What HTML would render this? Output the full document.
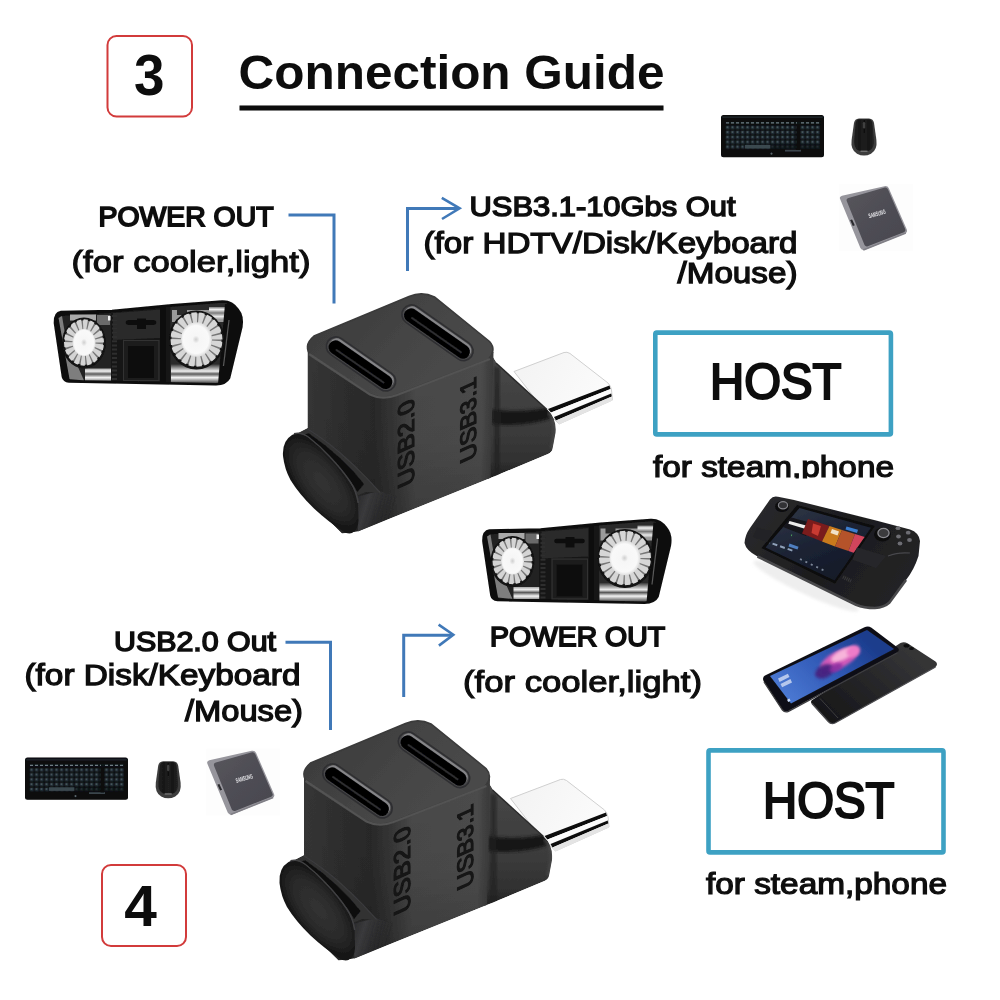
<!DOCTYPE html>
<html><head><meta charset="utf-8"><title>Connection Guide</title>
<style>
html,body{margin:0;padding:0;background:#fff;}
body{width:1000px;height:1000px;overflow:hidden;font-family:"Liberation Sans",sans-serif;}
svg{display:block;}
text{font-family:"Liberation Sans",sans-serif;fill:#0a0a0a;}
.m{stroke:#0a0a0a;stroke-width:1px;font-size:28px;}
.l{font-size:29.5px;}
.b{font-weight:bold;}
</style></head><body>
<svg width="1000" height="1000" viewBox="0 0 1000 1000">
<defs>
<linearGradient id="gTop" gradientUnits="userSpaceOnUse" x1="330" y1="300" x2="440" y2="400">
 <stop offset="0" stop-color="#3c3c3c"/><stop offset="0.5" stop-color="#444444"/><stop offset="1" stop-color="#4a4a4a"/>
</linearGradient>
<linearGradient id="gRight" gradientUnits="userSpaceOnUse" x1="307" y1="0" x2="494" y2="0">
 <stop offset="0" stop-color="#363636"/><stop offset="0.16" stop-color="#2f2f2f"/><stop offset="0.36" stop-color="#292929"/><stop offset="0.46" stop-color="#353535"/><stop offset="0.58" stop-color="#494949"/><stop offset="0.93" stop-color="#4c4c4c"/><stop offset="1" stop-color="#383838"/>
</linearGradient>
<linearGradient id="gShade" gradientUnits="userSpaceOnUse" x1="0" y1="350" x2="0" y2="530">
 <stop offset="0" stop-color="#000" stop-opacity="0"/><stop offset="0.5" stop-color="#000" stop-opacity="0.04"/><stop offset="1" stop-color="#000" stop-opacity="0.2"/>
</linearGradient>
<clipPath id="cNeck"><path d="M490 352 L497 363.5 L547 409.5 Q557 419 555.5 433 L552.5 449 Q552 452 548 454 L488 479 Z"/></clipPath>
<clipPath id="cBody"><path d="M307.5 344 L307.5 428 L292 436 L283.5 452 L301 493 L342 533.5 L358 531.5 L490.5 478 L556 450 L556 330 L400 290 Z"/></clipPath>
<linearGradient id="gNeck" gradientUnits="userSpaceOnUse" x1="500" y1="360" x2="500" y2="480">
 <stop offset="0" stop-color="#484848"/><stop offset="0.42" stop-color="#3e3e3e"/><stop offset="0.62" stop-color="#3a3a3a"/><stop offset="0.85" stop-color="#303030"/><stop offset="1" stop-color="#1e1e1e"/>
</linearGradient>
<radialGradient id="gTab" gradientUnits="userSpaceOnUse" cx="0" cy="0" r="1" gradientTransform="translate(322,482) rotate(52) scale(56,24)">
 <stop offset="0" stop-color="#323232"/><stop offset="0.6" stop-color="#2b2b2b"/><stop offset="0.88" stop-color="#1e1e1e"/><stop offset="1" stop-color="#141414"/>
</radialGradient>
<linearGradient id="gLip" gradientUnits="userSpaceOnUse" x1="356" y1="500" x2="392" y2="512">
 <stop offset="0" stop-color="#2a2a2c"/><stop offset="0.3" stop-color="#3a3a3c"/><stop offset="1" stop-color="#2c2c2e" stop-opacity="0"/>
</linearGradient>
<linearGradient id="gPlugTop" gradientUnits="userSpaceOnUse" x1="530" y1="360" x2="600" y2="400">
 <stop offset="0" stop-color="#f4f4f4"/><stop offset="1" stop-color="#fbfbfb"/>
</linearGradient>
<filter id="soft" x="-5%" y="-5%" width="110%" height="110%"><feGaussianBlur stdDeviation="0.7"/></filter>
<filter id="soft3" x="-2%" y="-2%" width="104%" height="104%"><feGaussianBlur stdDeviation="0.45"/></filter>
<filter id="soft2" x="-10%" y="-10%" width="120%" height="120%"><feGaussianBlur stdDeviation="1.6"/></filter>
<g id="adapter" filter="url(#soft)">
 <!-- plug -->
 <path d="M514 371.5 L564 352.5 Q567 351.5 570 353.5 L608 383 Q611 386 611.5 390 L612.5 400 L559 424 L540 405 Z" fill="url(#gPlugTop)" stroke="#cfcfcf" stroke-width="1"/>
 <path d="M548 409 L609.5 385.5 L610.5 389 L551 412.5 Z" fill="#0c0c0c"/>
 <path d="M551 412.6 L610.6 389 L611.2 393.6 L554 417 Z" fill="#fbfbfb"/>
 <path d="M554 417 L611.2 393.6 L611.8 396.4 L556 420.4 Z" fill="#101010"/>
 <path d="M556 420.4 L611.8 396.6 L612.4 400.5 L559 424.5 Z" fill="#e4e4e4"/>
 <!-- neck -->
 <g clip-path="url(#cNeck)">
 <path d="M490 352 L497 363.5 L547 409.5 Q557 419 555.5 433 L552.5 449 Q552 452 548 454 L488 479 Z" fill="url(#gNeck)"/>
 <path d="M492 409 Q520 414 550 407 L556 417 Q522 428 492 424 Z" fill="#141414" filter="url(#soft2)"/>
 <path d="M494 366 L500 368 L500 476 L494 478 Z" fill="#222" filter="url(#soft2)" opacity="0.7"/>
 <path d="M548 412 Q556 420 555 433 L552 449" fill="none" stroke="#4a4a4a" stroke-width="3" filter="url(#soft2)"/>
 </g>
 <path d="M496 363 L547 409.5" stroke="#2a2a2a" stroke-width="1.4" fill="none"/>
 <!-- body silhouette: left+right faces -->
 <g clip-path="url(#cBody)">
 <path d="M307.5 344 L307.5 428 L292 436 L283.5 452 L301 493 L342 533.5 L358 531.5 L490.5 478 L493.5 352 Z" fill="url(#gRight)"/>
 <path d="M307.5 344 L307.5 428 L292 436 L283.5 452 L301 493 L342 533.5 L358 531.5 L490.5 478 L493.5 352 Z" fill="url(#gShade)"/>
 <!-- tab side -->
 <path d="M356 497 L379 491 L398 497 L398 516 L358 532 Z" fill="url(#gLip)" filter="url(#soft)"/>
 <path d="M298.4 434.5 Q314 445 327 458 Q339 469 347.8 480 Q354 488 356.500 496 L366 492 L380 492.500 Q372 483 366 477.400 Q352 463 340 452.700 Q322 438 307.500 428.800 Z" fill="#303030"/>
 <path d="M309 433.500 Q326 445 341 459 Q353 470 364 484 L357.500 492 Q352 482 343 472.500 Q330 458 316 447 Q306 439 300 435 Z" fill="#0e0e10" filter="url(#soft)"/>
 <path d="M307.500 429 Q323 438.500 340 452.700 Q354 465 366 477.400 L380 492.500" fill="none" stroke="#3b3b3d" stroke-width="1.3"/>
 </g>
 <!-- tab face -->
 <path d="M283 456 Q282 441 292 435 Q299 431.500 306 436.500 Q318 445 330 458 Q342 470.500 349.500 481.500 Q356 491 358 503 L358.500 521 Q358 530 352 533 Q347 534.500 342 530.500 Q328 521.500 314 508.500 Q299 494 290.500 480 Q284.500 469 283 456 Z" fill="url(#gTab)"/>
 <path d="M294 433.800 Q301 431.500 309 437.500 Q320 446 330 457 Q342 469.500 350 481.500 Q356.500 491 358.200 503" fill="none" stroke="#414143" stroke-width="1.5" filter="url(#soft)"/>
 <!-- top face -->
 <path d="M314 336 L409 296.5 Q422 291 434.500 297 L489.500 341.500 Q497 350 488 359.500 L397 394.500 Q382.500 400 370 394 L312 357 Q302 346 314 336 Z" fill="url(#gTop)" stroke="#3a3a3a" stroke-width="1.6"/>
 <path d="M309 354 L370 394.500 Q382.500 400.500 397 395 L490 359" fill="none" stroke="#525252" stroke-width="2.4" filter="url(#soft)"/>
 <!-- ports -->
 <g>
  <path d="M336 346.5 L386 381.3" stroke="#2f2f31" stroke-width="21" stroke-linecap="round" fill="none"/>
  <path d="M336 346.5 L386 381.3" stroke="#4a4a4c" stroke-width="17.5" stroke-linecap="round" fill="none"/>
  <path d="M336.6 345.6 L386.6 380.40000000000003" stroke="#9a9a9c" stroke-width="14.5" stroke-linecap="round" fill="none" opacity="0.75"/>
  <path d="M335.5 347.3 L385.5 382.1" stroke="#050506" stroke-width="14" stroke-linecap="round" fill="none"/>
  <path d="M336.5 349.9 L383.5 382.6" stroke="#2e2e30" stroke-width="1.8" stroke-linecap="round" fill="none"/>
  <path d="M411.5 314.5 L463.5 351" stroke="#2f2f31" stroke-width="21" stroke-linecap="round" fill="none"/>
  <path d="M411.5 314.5 L463.5 351" stroke="#4a4a4c" stroke-width="17.5" stroke-linecap="round" fill="none"/>
  <path d="M412.1 313.6 L464.1 350.1" stroke="#9a9a9c" stroke-width="14.5" stroke-linecap="round" fill="none" opacity="0.75"/>
  <path d="M411.0 315.3 L463.0 351.8" stroke="#050506" stroke-width="14" stroke-linecap="round" fill="none"/>
  <path d="M412.0 317.9 L461.0 352.3" stroke="#2e2e30" stroke-width="1.8" stroke-linecap="round" fill="none"/>
 </g>
 <!-- labels -->
 <text transform="matrix(0,-1,1,-0.45,413.500,483)" x="0" y="0" font-size="23" textLength="86" lengthAdjust="spacingAndGlyphs" style="fill:#131313;stroke:#131313;stroke-width:1.1px">USB2.0</text>
 <text transform="matrix(0,-1,1,-0.45,476,458)" x="0" y="0" font-size="22.5" textLength="82" lengthAdjust="spacingAndGlyphs" style="fill:#131313;stroke:#131313;stroke-width:1.1px">USB3.1</text>
</g>

<radialGradient id="gFanL" gradientUnits="userSpaceOnUse" cx="0" cy="0" r="1" gradientTransform="translate(84,342.5) scale(12,15)">
 <stop offset="0" stop-color="#cfcfcf"/><stop offset="0.25" stop-color="#f6f6f6"/><stop offset="0.8" stop-color="#f9f9f9"/><stop offset="1" stop-color="#dcdcdc"/>
</radialGradient>
<radialGradient id="gFanR" gradientUnits="userSpaceOnUse" cx="0" cy="0" r="1" gradientTransform="translate(196,339.5) scale(16,17.5)">
 <stop offset="0" stop-color="#cfcfcf"/><stop offset="0.22" stop-color="#f6f6f6"/><stop offset="0.8" stop-color="#f9f9f9"/><stop offset="1" stop-color="#dcdcdc"/>
</radialGradient>
<linearGradient id="gStripe" gradientUnits="userSpaceOnUse" x1="0" y1="364" x2="0" y2="384">
 <stop offset="0" stop-color="#2a2a2a"/><stop offset="0.2" stop-color="#9a9a9a"/><stop offset="0.36" stop-color="#efefef"/><stop offset="0.5" stop-color="#5a5a5a"/><stop offset="0.68" stop-color="#f4f4f4"/><stop offset="0.85" stop-color="#8a8a8a"/><stop offset="1" stop-color="#3a3a3a"/>
</linearGradient>
<linearGradient id="gStripeT" gradientUnits="userSpaceOnUse" x1="0" y1="306" x2="0" y2="320">
 <stop offset="0" stop-color="#4a4a4a"/><stop offset="0.25" stop-color="#f0f0f0"/><stop offset="0.5" stop-color="#7a7a7a"/><stop offset="0.75" stop-color="#e8e8e8"/><stop offset="1" stop-color="#8a8a8a"/>
</linearGradient>
<clipPath id="cCool"><path d="M61 312 Q54.500 313 55 323 L63 377 Q64 381 69 381.500 L216 384.200 Q226 384 229 378 L241.300 327 Q243 316 238 310 Q232 301 222 301.500 L172 305.400 L112 311 Z"/></clipPath>
<g id="cooler" filter="url(#soft)">
 <path d="M61 312 Q54.500 313 55 323 L63 377 Q64 381 69 381.500 L216 384.200 Q226 384 229 378 L241.300 327 Q243 316 238 310 Q232 301 222 301.500 L172 305.400 L112 311 Z" fill="#0b0b0b"/>
 <g clip-path="url(#cCool)">
  <!-- left housing -->
  <path d="M60 316 L111 313 L111 381 L70 380 Z" fill="#242424"/>
  <path d="M58.500 318 L69.500 379 L84 380.500 L66 340 L62 316 Z" fill="#7e7e7e"/>
  <rect x="85" y="368.500" width="26" height="12" fill="url(#gStripe)"/>
  <rect x="70" y="314.500" width="26" height="6" fill="#a9a9a9"/>
  <rect x="97" y="315" width="13" height="10" fill="#6a6a6a"/>
  <rect x="108" y="316" width="2.500" height="4.500" fill="#f2f2f2"/>
  <!-- right housing -->
  <path d="M170 306 L226 302 L236 314 L226 382 L170 383 Z" fill="#2a2a2a"/>
  <rect x="171" y="363" width="49" height="20.500" fill="url(#gStripe)"/>
  <rect x="172" y="310" width="53" height="12" fill="#9a9a9a"/>
  <rect x="209" y="307" width="16" height="12" fill="url(#gStripeT)"/>
  <rect x="177" y="306" width="10" height="9" fill="#2a2a2a"/>
  <path d="M225 304 L244 304 L244 330 L230 384 L218 384 Z" fill="#0e0e0e"/>
  <path d="M229 320 L223.500 366" stroke="#5a5a5a" stroke-width="1.200"/>
  <!-- center block -->
  <path d="M111 309 L170.500 304 L170.500 384 L111 382 Z" fill="#161616"/>
  <path d="M113 313 L160 309.500 L160 338 L113 340 Z" fill="#292929"/>
  <rect x="123.500" y="340.500" width="35.500" height="40" fill="#1c1c1c" stroke="#333" stroke-width="1.200"/>
  <rect x="128" y="346" width="26" height="32" fill="#0e0e0e"/>
  <path d="M128 322.500 H154" stroke="#0a0a0a" stroke-width="4.500" stroke-linecap="round"/>
  <path d="M137 318.500 H146 V329 H137 Z" fill="#0d0d0d"/>
  <path d="M114.500 315 V380" stroke="#2e2e2e" stroke-width="5" stroke-dasharray="2 2.200"/>
  <path d="M163 306 V383" stroke="#0a0a0a" stroke-width="5"/>
  <!-- fans -->
  <ellipse cx="84" cy="343" rx="22" ry="25.5" fill="#121212"/>
  <g transform="translate(84,342.500) scale(1,1.160)">
   <circle r="15.500" fill="none" stroke="#d4d4d4" stroke-width="9"/>
   <circle r="15.500" fill="none" stroke="#6c6c6c" stroke-width="9.400" stroke-dasharray="1.300 4.110" opacity="0.9"/>
   <circle r="20" fill="none" stroke="#121212" stroke-width="1.600" stroke-dasharray="2.400 4.580"/>
  </g>
  <ellipse cx="84" cy="342.500" rx="11.500" ry="13.500" fill="url(#gFanL)"/>
  <ellipse cx="196.500" cy="340" rx="28" ry="29.5" fill="#121212"/>
  <g transform="translate(196.500,339.500) scale(1,1.050)">
   <circle r="20.500" fill="none" stroke="#d6d6d6" stroke-width="11"/>
   <circle r="20.500" fill="none" stroke="#6c6c6c" stroke-width="11.400" stroke-dasharray="1.400 5.040" opacity="0.9"/>
   <circle r="26" fill="none" stroke="#121212" stroke-width="1.800" stroke-dasharray="2.600 5.568"/>
  </g>
  <ellipse cx="196.500" cy="339.500" rx="15.500" ry="17.200" fill="url(#gFanR)"/>
 </g>
 <path d="M61 312 Q54.500 313 55 323 L63 377 Q64 381 69 381.500 L216 384.200 Q226 384 229 378 L241.300 327 Q243 316 238 310 Q232 301 222 301.500 L172 305.400 L112 311 Z" fill="none" stroke="#0b0b0b" stroke-width="2.6"/>
</g>

<pattern id="pKeys" x="725.3" y="125.2" width="5" height="4.85" patternUnits="userSpaceOnUse">
 <rect x="0.5" y="0.5" width="4" height="3.85" fill="#202c33"/>
 <rect x="1.4" y="1.3" width="1.6" height="1.4" fill="#56666e"/>
</pattern>
<g id="kbd" filter="url(#soft)">
 <rect x="721" y="115" width="103" height="42.300" rx="2.5" fill="#070809"/>
 <rect x="722.2" y="116.2" width="100.6" height="2" fill="#1d2226"/>
 <rect x="725.300" y="125.200" width="94.800" height="24.250" fill="url(#pKeys)"/>
 <rect x="725.300" y="121.600" width="94.800" height="2.600" fill="#111619"/>
 <path d="M726 122.900 H797 M801 122.900 H820" stroke="#6f7d84" stroke-width="1.300" stroke-dasharray="3 2"/>
 <rect x="745" y="144.900" width="25.500" height="3.600" fill="#3b484f"/>
 <rect x="770.500" y="144.600" width="50" height="5" fill="#0b0d0f" opacity="0.55"/>
 <rect x="785" y="149.800" width="16" height="1.800" fill="#3a454b"/>
 <rect x="796.500" y="125" width="3.500" height="25" fill="#070809"/>
 <circle cx="771.500" cy="153.700" r="1.100" fill="#5c666c"/>
</g>
<linearGradient id="gMouse" gradientUnits="userSpaceOnUse" x1="853" y1="0" x2="875" y2="0">
 <stop offset="0" stop-color="#222"/><stop offset="0.3" stop-color="#171717"/><stop offset="0.5" stop-color="#202020"/><stop offset="0.7" stop-color="#161616"/><stop offset="1" stop-color="#262626"/>
</linearGradient>
<g id="mouse" filter="url(#soft)">
 <path d="M859 118.500 L869 118.500 Q873.300 118.800 874 123 L876.400 140 Q877.600 150 871 153.700 Q864 157.400 857 153.700 Q850.400 150 851.600 140 L854 123 Q854.700 118.800 859 118.500 Z" fill="#3c3c3c"/>
 <path d="M859.500 119.300 L868.500 119.300 Q871.800 119.600 872.400 123 L873.800 139 Q874.600 147.500 870 150.300 Q864 153 858 150.300 Q853.400 147.500 854.200 139 L855.600 123 Q856.200 119.600 859.500 119.300 Z" fill="url(#gMouse)"/>
 <path d="M864 120 V133" stroke="#0a0a0a" stroke-width="1.200"/>
 <rect x="862.800" y="122" width="2.400" height="6.500" rx="1.200" fill="#3f3f3f"/>
 <rect x="860.500" y="150.600" width="7" height="1.300" fill="#777"/>
</g>
<linearGradient id="gSsd" gradientUnits="userSpaceOnUse" x1="850" y1="195" x2="900" y2="245">
 <stop offset="0" stop-color="#55545b"/><stop offset="0.5" stop-color="#4e4d54"/><stop offset="1" stop-color="#49484f"/>
</linearGradient>
<g id="ssd" filter="url(#soft)">
 <rect x="839" y="184" width="74" height="67" fill="#fdfdfd"/>
 <path d="M840.300 199.600 Q838.800 196.800 842 195.700 L884.500 186.200 Q887.700 185.700 888.800 188.300 L906.800 229.600 Q907.800 232.400 905 233.600 L865 249.800 Q862 250.900 860.400 248 Z" fill="#96959c"/>
 <path d="M846.800 201.300 Q845.800 198.800 848.500 198 L884.800 187.600 Q887 187.200 887.900 189.300 L905.300 229.300 Q906 231.300 904 232.200 L867.800 246.300 Q865.600 247 864.500 245 Z" fill="url(#gSsd)"/>
 <path d="M863.300 250 L905.800 233" stroke="#807f86" stroke-width="1.600" fill="none"/>
 <path d="M849.600 219.800 L852.300 218.900 L855.300 225.500 L852.600 226.500 Z" fill="#2a2a2e" stroke="#b5b4ba" stroke-width="0.600"/>
 <text transform="matrix(0.95,-0.27,0.27,0.95,869.300,218.300)" font-size="6.600" font-weight="bold" textLength="17.500" lengthAdjust="spacingAndGlyphs" style="fill:#e4e4e8">SAMSUNG</text>
</g>

<linearGradient id="gDeck" gradientUnits="userSpaceOnUse" x1="760" y1="500" x2="900" y2="600">
 <stop offset="0" stop-color="#2a2a2c"/><stop offset="0.5" stop-color="#1c1c1e"/><stop offset="1" stop-color="#242426"/>
</linearGradient>
<linearGradient id="gScr" gradientUnits="userSpaceOnUse" x1="800" y1="510" x2="830" y2="580">
 <stop offset="0" stop-color="#2b3242"/><stop offset="0.5" stop-color="#1b2233"/><stop offset="1" stop-color="#151a28"/>
</linearGradient>
<clipPath id="cScr"><path d="M799.500 508 L871 527.800 L834.500 580.500 L765.500 547.500 Z"/></clipPath>
<g id="deck" filter="url(#soft)">
 <ellipse cx="806" cy="586" rx="58" ry="8" transform="rotate(25 806 586)" fill="#eeeeee" filter="url(#soft2)"/>
 <path d="M770 499.500 Q773 495.500 778 496.800 L793 499.700 L877 520.700 L910 529.500 Q919 532.500 920 541 L918.500 556 Q914 570 906 580 L889.500 602.500 Q884 607.500 875 608 Q864 608 856 604.700 L757.500 556.500 Q746 550.500 744.500 543 Q745 535 750 528 Z" fill="url(#gDeck)"/>
 <path d="M757.500 556.500 L856 604.700 Q864 608 875 608 Q884 607.500 889.500 602.500 L906 580" fill="none" stroke="#4a4a4c" stroke-width="2.600"/>
 <path d="M797.200 505 L874.900 526 L835 583.700 L761.500 548 Z" fill="#0b0b0d"/>
 <path d="M799.500 508 L871 527.800 L834.500 580.500 L765.500 547.500 Z" fill="url(#gScr)"/>
 <g clip-path="url(#cScr)">
  <path d="M784 515.500 L813 523.500 L806 536 L778 525 Z" fill="#16161a"/>
  <path d="M789.500 521 L806 525.500 L804.800 528.800 L788.300 523.800 Z" fill="#ececec"/>
  <path d="M808 519 L829.500 526 L822 541.500 L802 533.500 Z" fill="#7a1a1c"/>
  <path d="M813 523.500 L821 526 L818 536 L811.500 533 Z" fill="#c83a30"/>
  <path d="M829.500 526 L842 530 L835 546.500 L822 541.500 Z" fill="#c97a1f"/>
  <path d="M832 529 L839 531.500 L837.500 535.500 L830.500 533 Z" fill="#f1e3c8"/>
  <path d="M842 530 L855 534 L848.500 551 L835 546.500 Z" fill="#b5532a"/>
  <path d="M855 534 L866.500 537.500 L860 555 L848.500 551 Z" fill="#d2445c"/>
  <path d="M846.500 526.500 L858 529.800 L857 533 L845.500 529.600 Z" fill="#3c7fd0"/>
  <path d="M765 541 L795 551.500" stroke="#8fa0b8" stroke-width="2" stroke-dasharray="5 3"/>
  <path d="M789 545 L798 548.200" stroke="#4f7fc0" stroke-width="3"/>
  <path d="M800 559 L826 571.500" stroke="#7c8799" stroke-width="1.800" stroke-dasharray="2 4"/>
  <path d="M776 530 L792 535.500" stroke="#50a060" stroke-width="1.800" stroke-dasharray="2 14"/>
 </g>
 <!-- controls -->
 <ellipse cx="882.500" cy="534.500" rx="8.500" ry="7" fill="#0e0e10"/>
 <ellipse cx="883.500" cy="533" rx="5.600" ry="4.600" fill="#3a3a3e" stroke="#8b8b90" stroke-width="1.300"/>
 <ellipse cx="782" cy="506.500" rx="7" ry="5.600" fill="#0e0e10"/>
 <ellipse cx="783" cy="505.300" rx="4.600" ry="3.600" fill="#333336" stroke="#85858a" stroke-width="1.200"/>
 <g fill="#6e6e73">
  <ellipse cx="898" cy="528.200" rx="2.400" ry="1.900"/><ellipse cx="908.200" cy="532.700" rx="2.400" ry="1.900"/>
  <ellipse cx="898.500" cy="536.500" rx="2.400" ry="1.900"/><ellipse cx="909.500" cy="540" rx="2.400" ry="1.900"/>
  <ellipse cx="900" cy="543.500" rx="2.400" ry="1.900"/>
 </g>
 <path d="M857 547.500 L886 556 L876 568 L852.500 559.500 Z" fill="#28282b"/>
 <path d="M757 527 L772 531.500 L767 542 L752.500 537 Z" fill="#242427"/>
 <path d="M888 556 Q898 552 910 553" fill="none" stroke="#48484b" stroke-width="1.200"/>
 <path d="M843 577 L852 581.500" stroke="#3a3a3d" stroke-width="3.500" stroke-dasharray="1 1"/>
</g>
<linearGradient id="gPhScr" gradientUnits="userSpaceOnUse" x1="860" y1="632" x2="790" y2="700">
 <stop offset="0" stop-color="#1c3c8c"/><stop offset="0.45" stop-color="#2f57b4"/><stop offset="1" stop-color="#4a78d2"/>
</linearGradient>
<linearGradient id="gPhBack" gradientUnits="userSpaceOnUse" x1="900" y1="645" x2="830" y2="722">
 <stop offset="0" stop-color="#343436"/><stop offset="0.5" stop-color="#252527"/><stop offset="1" stop-color="#161618"/>
</linearGradient>
<radialGradient id="gPink" gradientUnits="userSpaceOnUse" cx="0" cy="0" r="1">
 <stop offset="0" stop-color="#f9b8dc"/><stop offset="0.55" stop-color="#e464bd"/><stop offset="1" stop-color="#c040b0" stop-opacity="0"/>
</radialGradient>
<g id="phone" filter="url(#soft)">
 <path d="M813 699.500 L900.500 643 Q904 641.200 907.500 643.300 L935.500 661.500 Q938.500 664.200 935.500 667 L835 723 Q831 725 828 721.500 L811.500 703.500 Q810 701 813 699.500 Z" fill="url(#gPhBack)"/>
 <path d="M812 703.500 L828.500 721.800 Q831 724.500 835 723 L935.500 667" fill="none" stroke="#4c4c4f" stroke-width="1.300"/>
 <path d="M820 698.500 L838 718" stroke="#3c3c3f" stroke-width="1"/>
 <ellipse cx="906.500" cy="645.800" rx="3" ry="1.800" fill="#0c0c0e"/><ellipse cx="911.500" cy="648.500" rx="2.400" ry="1.500" fill="#0c0c0e"/>
 <path d="M765 675.500 L864.500 627.300 Q868 625.500 871.500 627.800 L897.500 647.500 Q900.500 650.200 897 652.500 L788.500 711 Q784.500 713 782 709.500 L763.500 681 Q762 677.500 765 675.500 Z" fill="#111114"/>
 <path d="M764 682 L782.500 710 Q785 713 788.500 711.300 L897.500 652.800" fill="none" stroke="#3e3e42" stroke-width="1.300"/>
 <path d="M770 676 L867 630 L894 649 L791 703.600 Z" fill="url(#gPhScr)"/>
 <g transform="translate(836,661) rotate(-27)">
  <ellipse cx="4" cy="0" rx="21" ry="8.500" fill="#dc5cba" opacity="0.95" filter="url(#soft2)"/>
  <ellipse cx="9" cy="-2.500" rx="13" ry="5" fill="#f7b4da" filter="url(#soft2)"/>
  <ellipse cx="20" cy="-1" rx="7" ry="5.500" fill="#ee7cc8" filter="url(#soft2)"/>
  <ellipse cx="-15" cy="4" rx="10" ry="6.500" fill="#47207f" opacity="0.95" filter="url(#soft2)"/>
  <ellipse cx="-3" cy="6" rx="7" ry="4" fill="#8a2fa0" opacity="0.9" filter="url(#soft2)"/>
 </g>
 <g transform="matrix(0.9,-0.44,0.42,0.9,778,678.500)" fill="#c9d6f2">
  <rect x="0" y="0" width="11" height="3.800" opacity="0.85"/><rect x="0" y="6" width="11" height="3.800" opacity="0.85"/>
 </g>
 <rect x="787.500" y="699" width="2.600" height="2.600" fill="#cfe0ff" transform="rotate(-27 788.8 700.3)"/>
</g>

<!--DEFS-->
</defs>
<rect width="1000" height="1000" fill="#ffffff"/>

<!-- TEXT-TOP -->
<g id="labels" filter="url(#soft3)">
<rect x="107.5" y="36" width="84.5" height="80.5" rx="9" fill="#fff" stroke="#d23a3a" stroke-width="2"/>
<text class="b" x="134" y="95" font-size="58" textLength="30.5" lengthAdjust="spacingAndGlyphs">3</text>
<text class="b" x="238.5" y="89.3" font-size="48" textLength="426" lengthAdjust="spacingAndGlyphs">Connection Guide</text>
<rect x="239.5" y="105.5" width="424" height="5" fill="#0a0a0a"/>

<text class="m" x="98.5" y="226" textLength="175" lengthAdjust="spacingAndGlyphs" style="stroke-width:1.75px">POWER OUT</text>
<text class="m l" x="71.5" y="271.6" textLength="239" lengthAdjust="spacingAndGlyphs" style="stroke-width:1.10px">(for cooler,light)</text>

<text class="m" x="469.5" y="215.7" textLength="266" lengthAdjust="spacingAndGlyphs" style="stroke-width:1.45px">USB3.1-10Gbs Out</text>
<text class="m l" x="423.5" y="253.3" textLength="374" lengthAdjust="spacingAndGlyphs" style="stroke-width:1.25px">(for HDTV/Disk/Keyboard</text>
<text class="m l" x="677.5" y="283" textLength="120" lengthAdjust="spacingAndGlyphs" style="stroke-width:1.25px">/Mouse)</text>

<rect x="655.3" y="332.6" width="235.6" height="101.8" rx="1.5" fill="#fff" stroke="#3ea1c3" stroke-width="4.6"/>
<text class="m" x="710" y="399.4" textLength="131.5" lengthAdjust="spacingAndGlyphs" style="font-size:50px;stroke-width:2.2px">HOST</text>
<text class="m l" x="653" y="476.6" textLength="241" lengthAdjust="spacingAndGlyphs" style="stroke-width:1.22px">for steam,phone</text>
<rect x="640" y="478.5" width="300" height="14" fill="#fff"/>

<text class="m" x="114" y="650.8" textLength="162" lengthAdjust="spacingAndGlyphs" style="stroke-width:1.50px">USB2.0 Out</text>
<text class="m l" x="24.5" y="684.8" textLength="276" lengthAdjust="spacingAndGlyphs" style="stroke-width:1.25px">(for Disk/Keyboard</text>
<text class="m l" x="185" y="720.5" textLength="118" lengthAdjust="spacingAndGlyphs" style="stroke-width:1.25px">/Mouse)</text>

<text class="m" x="490" y="646.4" textLength="175" lengthAdjust="spacingAndGlyphs" style="stroke-width:1.75px">POWER OUT</text>
<text class="m l" x="463" y="692.3" textLength="239" lengthAdjust="spacingAndGlyphs" style="stroke-width:1.10px">(for cooler,light)</text>

<rect x="708.5" y="750.4" width="235" height="102" rx="1.5" fill="#fff" stroke="#3ea1c3" stroke-width="4.6"/>
<text class="m" x="763" y="817.6" textLength="131.5" lengthAdjust="spacingAndGlyphs" style="font-size:50px;stroke-width:2.2px">HOST</text>
<text class="m l" x="706" y="894" textLength="241" lengthAdjust="spacingAndGlyphs" style="stroke-width:1.22px">for steam,phone</text>

<rect x="102" y="865" width="84" height="81" rx="9" fill="#fff" stroke="#d23a3a" stroke-width="2"/>
<text class="b" x="124.3" y="926" font-size="57" textLength="32.6" lengthAdjust="spacingAndGlyphs">4</text>
</g>

<!-- LINES -->
<g fill="none" stroke="#4179b8" stroke-width="3" stroke-linejoin="miter" filter="url(#soft3)">
<path d="M288.5 215 H334 V303.5"/>
<path d="M407.5 271 V208.4 H458"/>
<path d="M441.8 197.8 L459.6 208.3 L442 219" stroke-width="2.6"/>
<path d="M285.5 642.3 H330.5 V730"/>
<path d="M403.7 697 V635.3 H451.5"/>
<path d="M438.6 624.6 L453.3 634.8 L438.9 645.6" stroke-width="2.6"/>
</g>

<use href="#adapter"/>
<use href="#adapter" transform="translate(-3.5,427)"/>
<use href="#cooler"/>
<use href="#cooler" transform="translate(428.5,218.5)"/>
<use href="#kbd"/>
<use href="#mouse"/>
<use href="#ssd"/>
<use href="#kbd" transform="translate(-696,642.400)"/>
<use href="#mouse" transform="translate(-695.800,642.700)"/>
<use href="#ssd" transform="translate(-632.700,564.600)"/>
<use href="#deck"/>
<use href="#phone"/>
<!-- IMAGES -->
</svg>
</body></html>
